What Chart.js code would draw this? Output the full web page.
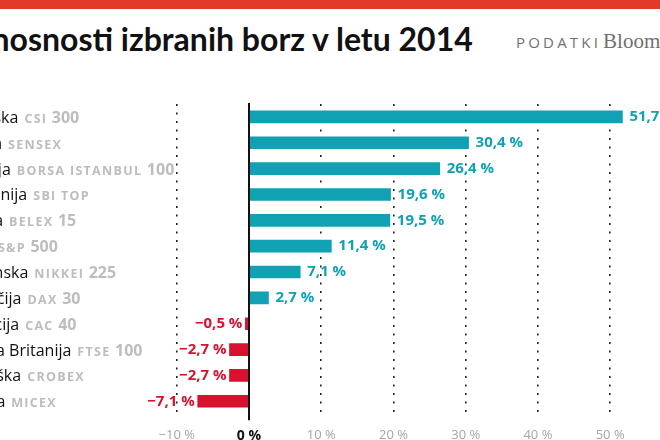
<!DOCTYPE html>
<html>
<head>
<meta charset="utf-8">
<script src="https://cdn.jsdelivr.net/npm/chart.js@4"></script>
<style>
  html, body { margin: 0; padding: 0; }
  body { width: 660px; height: 440px; overflow: hidden; position: relative; background: #fff; font-family: "Open Sans", sans-serif; }
  #topbar { position: absolute; left: 0; top: 0; width: 660px; height: 9px; background: #e2392a; }
  #title { position: absolute; left: -51px; top: 19px; font-family: Lato, sans-serif; font-weight: 700; font-size: 32px; color: #111; white-space: nowrap; }
  #source { position: absolute; left: 516px; top: 29px; white-space: nowrap; color: #707070; }
  #source .lbl { font-size: 15px; letter-spacing: 3.2px; }
  #source .name { font-family: "Liberation Serif", serif; font-size: 21px; margin-left: 2px; }
  #wrap { position: absolute; left: -140px; top: 95px; width: 800px; height: 362px; }
</style>
</head>
<body>
<div id="topbar"></div>
<div id="title">Donosnosti izbranih borz v letu 2014</div>
<div id="source"><span class="lbl">PODATKI</span><span class="name">Bloomberg</span></div>
<div id="wrap"><canvas id="chart" width="800" height="362"></canvas></div>
<script>
const countries = ['Kitajska', 'Indija', 'Turčija', 'Slovenija', 'Srbija', 'ZDA', 'Japonska', 'Nemčija', 'Francija', 'Velika Britanija', 'Hrvaška', 'Rusija'];
const indices = ['CSI 300', 'SENSEX', 'BORSA ISTANBUL 100', 'SBI TOP', 'BELEX 15', 'S&P 500', 'NIKKEI 225', 'DAX 30', 'CAC 40', 'FTSE 100', 'CROBEX', 'MICEX'];
const returns = [51.7, 30.4, 26.4, 19.6, 19.5, 11.4, 7.1, 2.7, -0.5, -2.7, -2.7, -7.1];

const TEAL = '#10a1b3';
const RED = '#d8112f';

function fmt(v) {
    return (v < 0 ? '\u2212' : '') + Math.abs(v).toFixed(1).replace('.', ',') + ' %';
}

// index name in small caps: letters small + spaced, digits full size
function drawSmallCaps(ctx, text, x, y) {
    const runs = text.match(/[0-9]+|[^0-9]+/g);
    runs.forEach(r => {
        if (/[0-9]/.test(r)) {
            ctx.font = 'bold 16px "Open Sans"';
            ctx.letterSpacing = '0px';
        } else {
            ctx.font = 'bold 12.5px "Open Sans"';
            ctx.letterSpacing = '1.3px';
        }
        ctx.fillText(r, x, y);
        x += ctx.measureText(r).width;
    });
}

// country names + index names drawn left-aligned, using the category scale
const rowLabels = {
    id: 'rowLabels',
    afterDraw(chart) {
        const ctx = chart.ctx;
        const y = chart.scales.y;
        ctx.save();
        ctx.textBaseline = 'alphabetic';
        ctx.textAlign = 'left';
        countries.forEach((c, i) => {
            const base = y.getPixelForValue(i) + 6;
            ctx.font = '16px "Open Sans"';
            ctx.fillStyle = '#111';
            ctx.letterSpacing = '0px';
            ctx.fillText(c, 101, base);
            const w = ctx.measureText(c).width;
            ctx.fillStyle = '#bdbdbd';
            drawSmallCaps(ctx, indices[i], 101 + w + 6, base);
        });
        ctx.restore();
    }
};

// zero line + value labels
const valueLabels = {
    id: 'valueLabels',
    afterDatasetsDraw(chart) {
        const ctx = chart.ctx;
        const x = chart.scales.x;
        const area = chart.chartArea;
        const zx = x.getPixelForValue(0);
        ctx.save();
        ctx.strokeStyle = '#111';
        ctx.lineWidth = 2;
        ctx.beginPath();
        ctx.moveTo(zx, area.top - 1);
        ctx.lineTo(zx, area.bottom + 6);
        ctx.stroke();

        ctx.font = 'bold 15px "Open Sans"';
        ctx.textBaseline = 'middle';
        chart.getDatasetMeta(0).data.forEach((bar, i) => {
            const v = returns[i];
            if (v >= 0) {
                ctx.fillStyle = TEAL;
                ctx.textAlign = 'left';
                ctx.fillText(fmt(v), bar.x + 7, bar.y);
            } else {
                ctx.fillStyle = RED;
                ctx.textAlign = 'right';
                ctx.fillText(fmt(v), bar.x - 3, bar.y);
            }
        });
        ctx.restore();
    }
};

new Chart(document.getElementById('chart'), {
    type: 'bar',
    data: {
        labels: countries,
        datasets: [{
            data: returns,
            backgroundColor: returns.map(v => v >= 0 ? TEAL : RED),
            barThickness: 12,
            borderWidth: 0
        }]
    },
    options: {
        indexAxis: 'y',
        responsive: false,
        devicePixelRatio: 1,
        animation: false,
        layout: { padding: { left: 314.6, right: 0, top: 9, bottom: 0 } },
        plugins: { legend: { display: false }, tooltip: { enabled: false } },
        scales: {
            y: { display: false },
            x: {
                min: -10.3,
                max: 56.9,
                border: { display: false, dash: [2, 6.5] },
                grid: {
                    drawTicks: false,
                    lineWidth: 1.6,
                    color: c => c.tick && c.tick.value === 0 ? 'rgba(0,0,0,0)' : '#222'
                },
                ticks: {
                    stepSize: 10,
                    includeBounds: false,
                    padding: 13,
                    color: c => c.tick.value === 0 ? '#111' : '#a5a5a5',
                    font: c => c.tick && c.tick.value === 0
                        ? { family: 'Open Sans', size: 14, weight: 'bold' }
                        : { family: 'Open Sans', size: 13 },
                    callback: v => v === 0 ? '0 %' : (v < 0 ? '\u2212' : '') + Math.abs(v) + ' %'
                }
            }
        }
    },
    plugins: [rowLabels, valueLabels]
});
</script>
</body>
</html>
